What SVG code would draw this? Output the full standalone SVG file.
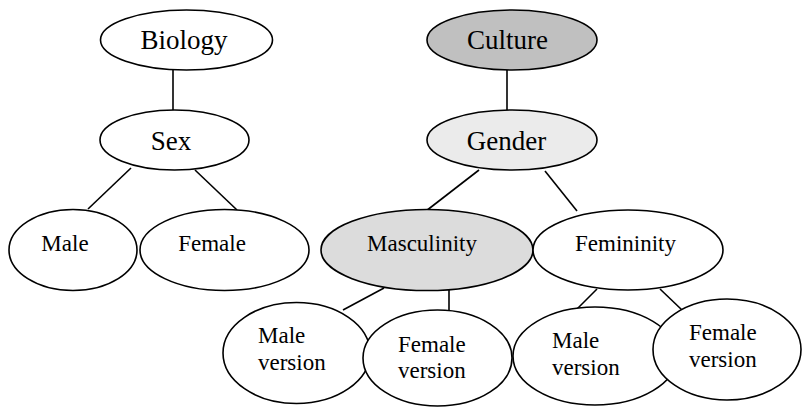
<svg xmlns="http://www.w3.org/2000/svg" width="802" height="407" viewBox="0 0 802 407">
  <style>
    .node ellipse { fill: #ffffff; stroke: #000000; stroke-width: 1.6; }
    .node text { font-family: "Liberation Serif", "Times New Roman", serif; fill: #000000; }
    .big { font-size: 27px; text-anchor: middle; }
    .small { font-size: 23px; }
    .mid { text-anchor: middle; }
    #connectors line { stroke: #000000; stroke-width: 1.6; }
  </style>
  <rect width="802" height="407" fill="#ffffff"/>

  <g id="connectors">
    <line x1="173" y1="70" x2="173" y2="110"/>
    <line x1="131" y1="168" x2="88" y2="209"/>
    <line x1="195" y1="170" x2="237" y2="210"/>
    <line x1="507" y1="70" x2="507" y2="110"/>
    <line x1="479" y1="170" x2="426" y2="211"/>
    <line x1="545" y1="171" x2="577" y2="211"/>
    <line x1="384" y1="288" x2="343" y2="310"/>
    <line x1="449" y1="290" x2="449" y2="311"/>
    <line x1="597" y1="289" x2="577" y2="309"/>
    <line x1="660" y1="289" x2="682" y2="310"/>
  </g>

  <g id="biology" class="node">
    <ellipse cx="186.5" cy="40" rx="86" ry="30"/>
    <text class="big" x="184" y="49">Biology</text>
  </g>
  <g id="sex" class="node">
    <ellipse cx="174.5" cy="140" rx="74.5" ry="30"/>
    <text class="big" x="171" y="150">Sex</text>
  </g>
  <g id="male" class="node">
    <ellipse cx="73" cy="250" rx="64" ry="40.5"/>
    <text class="small mid" x="65" y="251">Male</text>
  </g>
  <g id="female" class="node">
    <ellipse cx="224.5" cy="250" rx="84.5" ry="40.5"/>
    <text class="small mid" x="212" y="251">Female</text>
  </g>

  <g id="culture" class="node">
    <ellipse cx="512" cy="40" rx="85" ry="30" style="fill:#c0c0c0"/>
    <text class="big" x="507.5" y="49">Culture</text>
  </g>
  <g id="gender" class="node">
    <ellipse cx="512" cy="140" rx="85" ry="30" style="fill:#ebebeb"/>
    <text class="big" x="506.5" y="150">Gender</text>
  </g>
  <g id="masculinity" class="node">
    <ellipse cx="427" cy="250" rx="106" ry="40.5" style="fill:#dcdcdc"/>
    <text class="small mid" x="422" y="251">Masculinity</text>
  </g>
  <g id="femininity" class="node">
    <ellipse cx="628" cy="250" rx="95" ry="40"/>
    <text class="small mid" x="625.5" y="251">Femininity</text>
  </g>

  <g id="masc-male-version" class="node">
    <ellipse cx="296.5" cy="353" rx="73.5" ry="50.5"/>
    <text class="small" x="258" y="343">Male</text>
    <text class="small" x="258" y="370">version</text>
  </g>
  <g id="masc-female-version" class="node">
    <ellipse cx="437.5" cy="358" rx="74.5" ry="48"/>
    <text class="small" x="398" y="352">Female</text>
    <text class="small" x="398" y="378">version</text>
  </g>
  <g id="fem-male-version" class="node">
    <ellipse cx="595" cy="356" rx="82" ry="49"/>
    <text class="small" x="552" y="348">Male</text>
    <text class="small" x="552" y="375">version</text>
  </g>
  <g id="fem-female-version" class="node">
    <ellipse cx="727" cy="349.5" rx="74" ry="50.5"/>
    <text class="small" x="689" y="340">Female</text>
    <text class="small" x="689" y="367">version</text>
  </g>
</svg>
